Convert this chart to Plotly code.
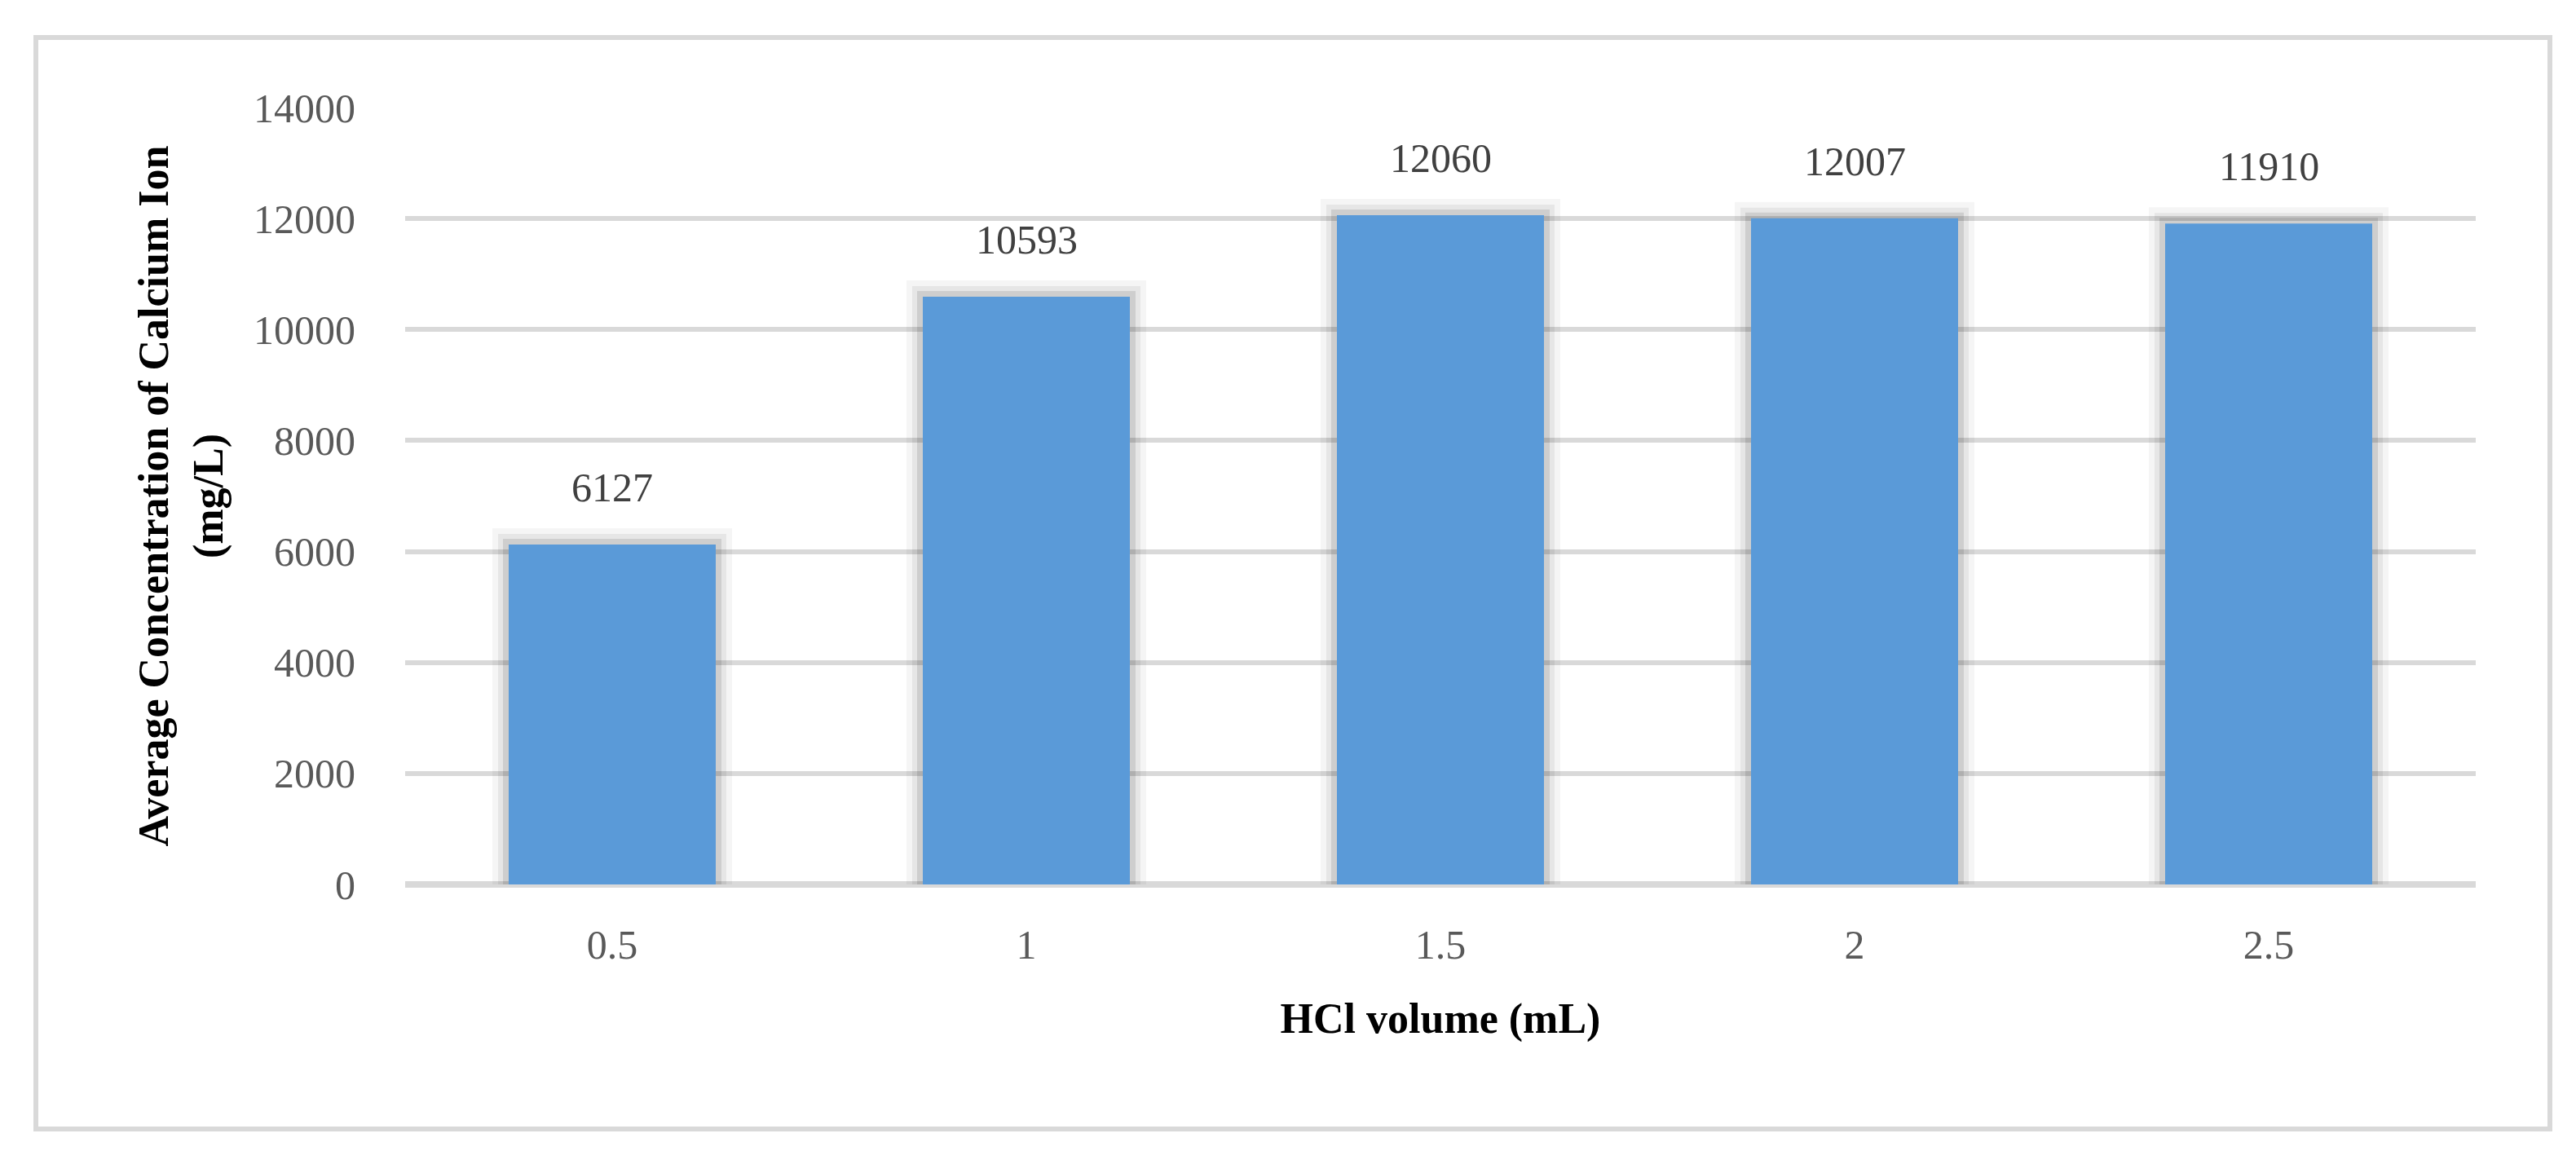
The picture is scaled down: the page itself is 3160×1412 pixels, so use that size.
import plotly.graph_objects as go

categories = ["0.5", "1", "1.5", "2", "2.5"]
calcium = [6127, 10593, 12060, 12007, 11910]
y_ticks = [0, 2000, 4000, 6000, 8000, 10000, 12000, 14000]

# page body has an 8px default margin; compensate so the chart lands in place
OFF = 8
W, H = 3160, 1412
L, T = 497 - OFF, 132 - OFF
R = W - (3037 - OFF)
B = H - (1085 - OFF)
pw, ph = W - L - R, H - T - B

FONT = "Liberation Serif"

fig = go.Figure()
# soft shadow halo behind bars (layered translucent outlines)
for lw, a in [(40, 0.04), (26, 0.06), (14, 0.10)]:
    fig.add_trace(go.Bar(
        x=categories, y=calcium, width=0.5,
        marker=dict(color="rgba(0,0,0,0)", line=dict(color=f"rgba(0,0,0,{a})", width=lw)),
        hoverinfo="skip", showlegend=False,
    ))
fig.add_trace(go.Bar(
    x=categories, y=calcium, width=0.5,
    marker=dict(color="#5a9ad8", line=dict(width=0)),
    showlegend=False,
))

for i, v in enumerate(calcium):
    fig.add_annotation(x=i, y=v, text=str(v), showarrow=False, yanchor="bottom",
                       yshift=40, font=dict(family=FONT, size=50, color="#404040"))

# outer chart border (in paper coordinates)
def px_x(px):
    return (px - OFF - L) / pw

def px_y(py):
    return (H - B - (py - OFF)) / ph

fig.add_shape(type="rect", xref="paper", yref="paper",
              x0=px_x(44), x1=px_x(3128), y0=px_y(1385), y1=px_y(46),
              line=dict(color="#d9d9d9", width=6), fillcolor="rgba(0,0,0,0)", layer="below")

fig.update_layout(
    width=W, height=H,
    margin=dict(l=L, r=R, t=T, b=B, autoexpand=False),
    paper_bgcolor="white", plot_bgcolor="white",
    barmode="overlay",
    font=dict(family=FONT, size=50, color="#595959"),
    xaxis=dict(
        type="category", showgrid=False, showline=False, ticks="",
        ticklabelstandoff=40,
        tickfont=dict(family=FONT, size=50, color="#595959"),
        title=dict(text="<b>HCl volume (mL)</b>", standoff=44,
                   font=dict(family=FONT, size=52, color="#000000")),
    ),
    yaxis=dict(
        range=[0, 14000], tickvals=y_ticks, ticktext=[str(t) for t in y_ticks],
        showgrid=True, gridcolor="#d9d9d9", gridwidth=6,
        zeroline=True, zerolinecolor="#d9d9d9", zerolinewidth=8,
        showline=False, ticks="", ticklabelstandoff=60,
        tickfont=dict(family=FONT, size=50, color="#595959"),
        title=dict(text="<b>Average Concentration of Calcium Ion<br>(mg/L)</b>", standoff=20,
                   font=dict(family=FONT, size=52, color="#000000")),
    ),
)

fig.write_html("out.html")
